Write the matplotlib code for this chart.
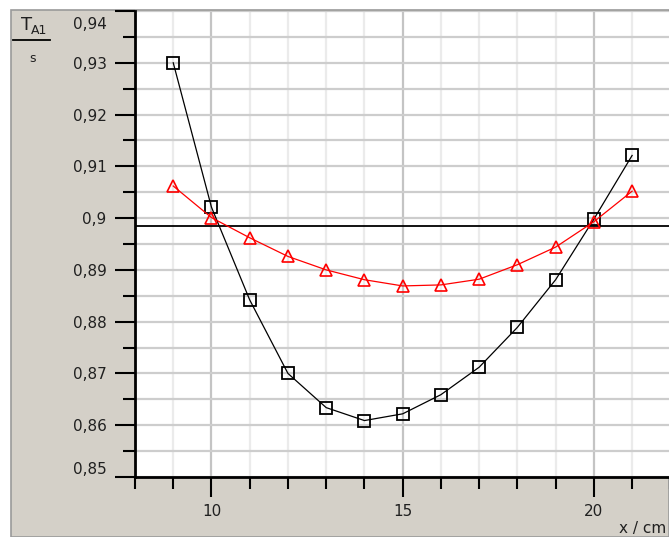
import numpy as np
import matplotlib
matplotlib.use("Agg")
import matplotlib.pyplot as plt
from matplotlib.patches import Rectangle
from matplotlib.lines import Line2D
from matplotlib.ticker import MultipleLocator, FixedLocator

# ── données ──
x = [9, 10, 11, 12, 13, 14, 15, 16, 17, 18, 19, 20, 21]
t_noir = [0.9300, 0.9021, 0.8842, 0.8700, 0.8634, 0.8609, 0.8622,
          0.8659, 0.8712, 0.8789, 0.8881, 0.8998, 0.9121]
t_rouge = [0.9062, 0.9001, 0.8962, 0.8926, 0.8900, 0.8881, 0.8869,
           0.8871, 0.8882, 0.8910, 0.8944, 0.8993, 0.9052]
t_ligne = 0.8984

y_ticks = [0.85, 0.86, 0.87, 0.88, 0.89, 0.90, 0.91, 0.92, 0.93, 0.94]
y_labels = ["0,85", "0,86", "0,87", "0,88", "0,89", "0,9", "0,91", "0,92", "0,93", "0,94"]
x_ticks = [10, 15, 20]

W, H = 669, 537
gris = "#d4d0c8"

fig = plt.figure(figsize=(W / 100, H / 100), dpi=100, facecolor="white")

# panneau gris
fig.patches.append(Rectangle((11 / W, 0), 1 - 11 / W, 1 - 10 / H, transform=fig.transFigure,
                             facecolor=gris, edgecolor="#9a9a9a", linewidth=1.2, zorder=-5))

ax = fig.add_axes([135 / W, (H - 477) / H, 1 - 135 / W + 0.002, (477 - 11) / H])
ax.set_zorder(2)
ax.set_facecolor("white")
ax.set_xlim(8, 22)
ax.set_ylim(0.85, 0.94)

# grille
for v in np.arange(8, 23):
    c = "#c4c4c4" if v % 5 == 0 else "#ebebeb"
    ax.axvline(v, color=c, lw=1.6, zorder=1)
for v in np.arange(0.85, 0.9401, 0.005):
    ax.axhline(v, color="#cdcdcd", lw=1.6, zorder=1)

ax.axhline(t_ligne, color="black", lw=1.3, zorder=3)

ax.plot(x, t_noir, color="black", lw=0.9, marker="s", ms=8, mfc="none",
        mec="black", mew=1.3, zorder=4)
ax.plot(x, t_rouge, color="red", lw=0.9, marker="^", ms=9, mfc="none",
        mec="red", mew=1.2, zorder=5)

# axes
for s in ["top", "right"]:
    ax.spines[s].set_visible(False)
for s in ["left", "bottom"]:
    ax.spines[s].set_linewidth(2)
    ax.spines[s].set_zorder(6)

ax.xaxis.set_major_locator(FixedLocator(x_ticks))
ax.xaxis.set_minor_locator(MultipleLocator(1))
ax.yaxis.set_major_locator(FixedLocator(y_ticks))
ax.yaxis.set_minor_locator(FixedLocator(np.arange(0.855, 0.94, 0.01)))
ax.tick_params(which="major", direction="out", length=14.5, width=1.5, color="black")
ax.tick_params(which="minor", direction="out", length=8.5, width=1.5, color="black")
ax.tick_params(axis="x", labelsize=11, pad=5)
ax.tick_params(axis="y", labelsize=11, pad=6)
ax.set_xticklabels([str(v) for v in x_ticks])
ax.set_yticklabels(y_labels[:-1] + [""])
ax.get_yticklabels()[0].set_verticalalignment("bottom")
for lab in ax.get_xticklabels() + ax.get_yticklabels():
    lab.set_color("#202020")

# étiquette du haut, décalée vers le bas comme dans l'original
ax.annotate(y_labels[-1], xy=(0, y_ticks[-1]), xycoords=ax.get_yaxis_transform(),
            xytext=(-20.5, -10), textcoords="offset points", ha="right", va="center",
            fontsize=11, color="#202020", annotation_clip=False)

# titre de l'axe y
fig.text(21 / W, 1 - 25 / H, "T", fontsize=13, ha="left", va="center", color="#202020")
fig.text(31 / W, 1 - 31 / H, "A1", fontsize=9, ha="left", va="center", color="#202020")
fig.lines.append(Line2D([13 / W, 50 / W], [1 - 40 / H, 1 - 40 / H], transform=fig.transFigure,
                        color="black", lw=1.3))
fig.text(33 / W, 1 - 58 / H, "s", fontsize=9, ha="center", va="center", color="#202020")

# titre de l'axe x
fig.text(666 / W, 1 - 529 / H, "x / cm", fontsize=11, ha="right", va="center", color="#202020")

fig.savefig("out.png", dpi=100, facecolor="white")
